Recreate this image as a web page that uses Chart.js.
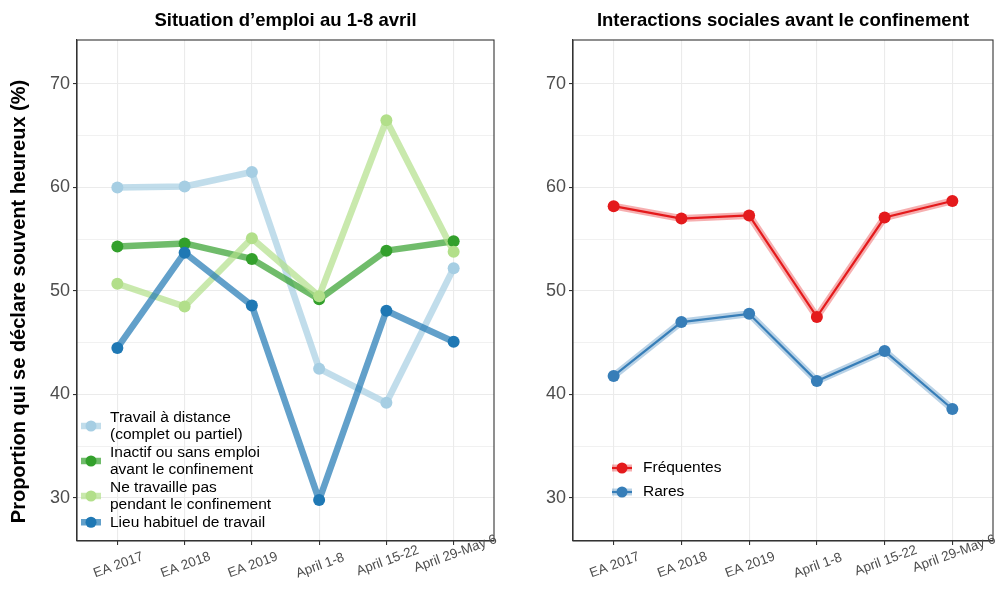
<!DOCTYPE html>
<html><head><meta charset="utf-8">
<script src="https://cdn.jsdelivr.net/npm/chart.js@4.4.1/dist/chart.umd.min.js"></script>
<style>
html,body{margin:0;padding:0;background:#fff;}
#wrap{position:relative;width:995px;height:592px;overflow:hidden;}
.c{position:absolute;top:0;height:592px;}
#c1{left:0;width:500px;} #c2{left:497px;width:502px;}
</style></head><body>
<div id="wrap"><div class="c" id="c1"><canvas id="left"></canvas></div><div class="c" id="c2"><canvas id="right"></canvas></div></div>
<script>
// ---- data ----
const categories = ['EA 2017','EA 2018','EA 2019','April 1-8','April 15-22','April 29-May 6'];
const yMajorTicks = [30,40,50,60,70];
const yMinorTicks = [35,45,55,65];
const leftTitle = 'Situation d’emploi au 1-8 avril';
const rightTitle = 'Interactions sociales avant le confinement';
const yTitle = 'Proportion qui se déclare souvent heureux (%)';

const travailDistance = [60.0, 60.1, 61.5, 42.5, 39.2, 52.2];
const inactif         = [54.3, 54.6, 53.1, 49.2, 53.9, 54.8];
const neTravaillePas  = [50.7, 48.5, 55.1, 49.5, 66.5, 53.8];
const lieuHabituel    = [44.5, 53.7, 48.6, 29.8, 48.1, 45.1];
const frequentes = [58.2, 57.0, 57.3, 47.5, 57.1, 58.7];
const rares      = [41.8, 47.0, 47.8, 41.3, 44.2, 38.6];

const leftSeriesNames = [['Travail à distance','(complet ou partiel)'], ['Inactif ou sans emploi','avant le confinement'], ['Ne travaille pas','pendant le confinement'], ['Lieu habituel de travail']];
const rightSeriesNames = ['Fréquentes','Rares'];

// ---- styling ----
const FONT = '"Liberation Sans", Arial, Helvetica, sans-serif';
Chart.defaults.font.family = FONT;
const leftColors = [[166,206,227],[51,160,44],[178,223,138],[31,120,180]];
const rightColors = [[228,26,28],[55,126,184]];
const rgba = (c,a) => `rgba(${c[0]},${c[1]},${c[2]},${a})`;
const pts = arr => arr.map((v,i) => ({x:i, y:v}));

function scalesFor(yWidth){
  return {
    x: {type:'linear', min:-0.6, max:5.6,
        afterBuildTicks: a => { a.ticks = categories.map((_,i)=>({value:i})); },
        afterFit: s => { s.height = 51; s.paddingLeft = 0; s.paddingRight = 0; },
        ticks:{display:false},
        grid:{color:'#ebebeb', lineWidth:1.1, tickColor:'#333', tickLength:4, drawTicks:true},
        border:{display:true, color:'#333', width:1.1}},
    y: {type:'linear', min:25.85, max:74.25,
        afterBuildTicks: a => { a.ticks = [...yMajorTicks, ...yMinorTicks].sort((p,q)=>p-q).map(v=>({value:v})); },
        afterFit: s => { s.width = yWidth; },
        ticks:{callback: v => yMajorTicks.includes(v) ? String(v) : '', color:'#4d4d4d', font:{size:18}, padding:3, autoSkip:false},
        grid:{color:'#ebebeb', lineWidth: c => (c.tick && yMajorTicks.includes(c.tick.value)) ? 1.1 : 0.7,
              tickColor: c => (c.tick && yMajorTicks.includes(c.tick.value)) ? '#333' : 'rgba(0,0,0,0)', tickLength:4, drawTicks:true},
        border:{display:true, color:'#333', width:1.1}}
  };
}

function decorPlugin(title, withYTitle, legendFn){
  return {
    id:'decor',
    afterDraw(chart){
      const ctx = chart.ctx, ca = chart.chartArea, xs = chart.scales.x;
      ctx.save();
      ctx.strokeStyle = '#333'; ctx.lineWidth = 1.1;
      ctx.strokeRect(ca.left, ca.top, ca.right-ca.left, ca.bottom-ca.top);
      ctx.fillStyle = '#000';
      ctx.font = `bold 18.5px ${FONT}`;
      ctx.textAlign = 'center'; ctx.textBaseline = 'middle';
      ctx.fillText(title, (ca.left+ca.right)/2, 21);
      if (withYTitle){
        ctx.save();
        ctx.translate(19, 301.5);
        ctx.rotate(-Math.PI/2);
        ctx.font = `bold 20px ${FONT}`;
        ctx.fillText(yTitle, 0, 0);
        ctx.restore();
      }
      ctx.font = `13.5px ${FONT}`;
      ctx.fillStyle = '#4d4d4d';
      categories.forEach((lab,i) => {
        const x = xs.getPixelForValue(i);
        const w = ctx.measureText(lab).width;
        const cy = ca.bottom + 41 - 0.325*w;
        ctx.save();
        ctx.translate(x + 0.02*w, cy);
        ctx.rotate(-20*Math.PI/180);
        ctx.textAlign = 'center'; ctx.textBaseline = 'middle';
        ctx.fillText(lab, 0, 0);
        ctx.restore();
      });
      legendFn(ctx, ca);
      ctx.restore();
    }
  };
}

const leftSeries = [travailDistance, inactif, neTravaillePas, lieuHabituel];
const leftDatasets = [];
leftSeries.forEach((s,k) => {
  leftDatasets.push({data:pts(s), borderColor:rgba(leftColors[k],0.7), borderWidth:6.5, pointRadius:0, showLine:true, order:20-k, borderCapStyle:'butt', borderJoinStyle:'round'});
});
leftSeries.forEach((s,k) => {
  leftDatasets.push({data:pts(s), backgroundColor:rgba(leftColors[k],1), borderColor:rgba(leftColors[k],1), pointRadius:6, pointBorderWidth:0, showLine:false, order:10-k});
});

function leftLegend(ctx, ca){
  const lineH = 17.5;
  let top = ca.bottom - 132.5;
  ctx.font = `15.5px ${FONT}`;
  ctx.textAlign = 'left'; ctx.textBaseline = 'middle';
  leftSeriesNames.forEach((lines,k) => {
    const h = lines.length*lineH;
    const cy = top + h/2;
    const x0 = ca.left+4, x1 = ca.left+24;
    ctx.strokeStyle = rgba(leftColors[k],0.7); ctx.lineWidth = 6.5; ctx.lineCap='butt';
    ctx.beginPath(); ctx.moveTo(x0,cy); ctx.lineTo(x1,cy); ctx.stroke();
    ctx.fillStyle = rgba(leftColors[k],1);
    ctx.beginPath(); ctx.arc((x0+x1)/2, cy, 5.5, 0, 2*Math.PI); ctx.fill();
    ctx.fillStyle = '#000';
    lines.forEach((t,j) => ctx.fillText(t, ca.left+33, top + lineH*(j+0.5)));
    top += h;
  });
}

new Chart(document.getElementById('left'), {
  type:'line',
  data:{datasets:leftDatasets},
  options:{responsive:true, maintainAspectRatio:false, animation:false, events:[],
    layout:{padding:{top:40, right:0, bottom:0, left:0}},
    plugins:{legend:{display:false}, title:{display:false}, tooltip:{enabled:false}},
    scales:scalesFor(77)},
  plugins:[decorPlugin(leftTitle, true, leftLegend)]
});

const rightSeries = [frequentes, rares];
const rightDatasets = [];
rightSeries.forEach((s,k) => {
  rightDatasets.push({data:pts(s), borderColor:rgba(rightColors[k],0.35), borderWidth:7, pointRadius:0, showLine:true, order:30-k, borderJoinStyle:'round'});
});
rightSeries.forEach((s,k) => {
  rightDatasets.push({data:pts(s), borderColor:rgba(rightColors[k],1), borderWidth:2.2, pointRadius:0, showLine:true, order:20-k});
});
rightSeries.forEach((s,k) => {
  rightDatasets.push({data:pts(s), backgroundColor:rgba(rightColors[k],1), borderColor:rgba(rightColors[k],1), pointRadius:6, pointBorderWidth:0, showLine:false, order:10-k});
});

function rightLegend(ctx, ca){
  ctx.font = `15.5px ${FONT}`;
  ctx.textAlign = 'left'; ctx.textBaseline = 'middle';
  rightSeriesNames.forEach((name,k) => {
    const cy = ca.bottom - 73 + 24*k;
    const x0 = ca.left+39, x1 = ca.left+59;
    ctx.strokeStyle = rgba(rightColors[k],0.35); ctx.lineWidth = 7;
    ctx.beginPath(); ctx.moveTo(x0,cy); ctx.lineTo(x1,cy); ctx.stroke();
    ctx.strokeStyle = rgba(rightColors[k],1); ctx.lineWidth = 2.2;
    ctx.beginPath(); ctx.moveTo(x0,cy); ctx.lineTo(x1,cy); ctx.stroke();
    ctx.fillStyle = rgba(rightColors[k],1);
    ctx.beginPath(); ctx.arc((x0+x1)/2, cy, 5.5, 0, 2*Math.PI); ctx.fill();
    ctx.fillStyle = '#000';
    ctx.fillText(name, ca.left+70, cy);
  });
}

new Chart(document.getElementById('right'), {
  type:'line',
  data:{datasets:rightDatasets},
  options:{responsive:true, maintainAspectRatio:false, animation:false, events:[],
    layout:{padding:{top:40, right:0, bottom:0, left:0}},
    plugins:{legend:{display:false}, title:{display:false}, tooltip:{enabled:false}},
    scales:scalesFor(76)},
  plugins:[decorPlugin(rightTitle, false, rightLegend)]
});
</script>
</body></html>
